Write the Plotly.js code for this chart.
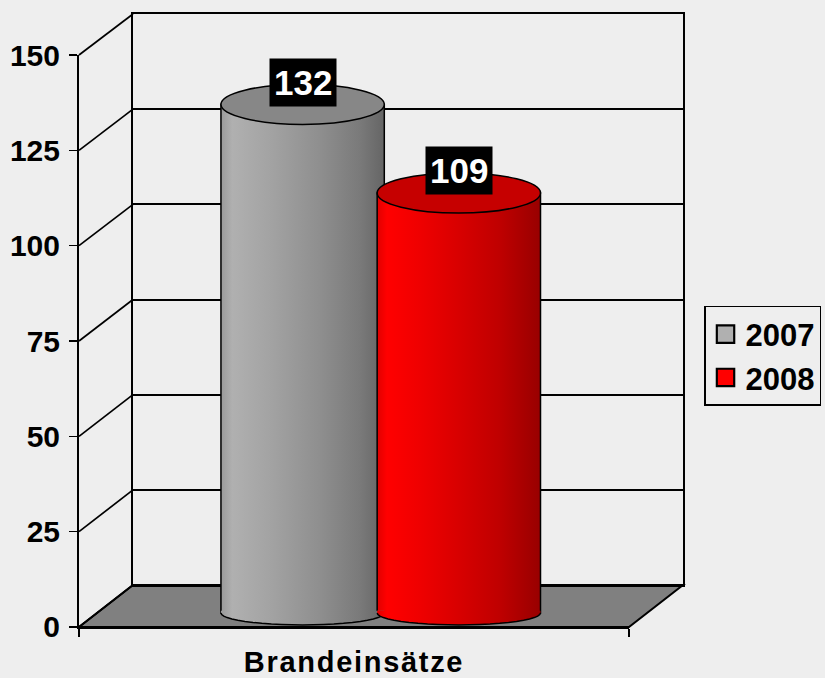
<!DOCTYPE html>
<html>
<head>
<meta charset="utf-8">
<script src="https://cdn.plot.ly/plotly-3.0.1.min.js"></script>
<style>html,body{margin:0;padding:0;background:#eeeeee;}</style>
</head>
<body>
<div id="chart" style="width:825px;height:678px;"></div>
<script>
// ---- data ----
const categories = ['Brandeinsätze'];
const seriesNames = ['2007', '2008'];
const values2007 = [132];
const values2008 = [109];
const yTickVals = [0, 25, 50, 75, 100, 125, 150];

// ---- styles / geometry ----
const FONT = 'Liberation Sans, Arial, sans-serif';
const FRONT_X = [0, 0.9106], FRONT_Y = [0, 0.9331];
const BACK_X = [0.0894, 1], BACK_Y = [0.0685, 1];
const BAR_W = 0.297;
const OFFSETS = [-0.291, -0.007];
const TOP_RY = 5.2, BOT_RY = 3.1;
const swatch = ['#b0b0b0', '#ff0000'];
const topColors = ['#878787', '#c60000'];
const gradIds = ['gradGray', 'gradRed'];
const gradStops = [
  [[0, '#9a9a9a'], [0.07, '#b0b0b0'], [0.3, '#a3a3a3'], [0.6, '#8f8f8f'], [0.85, '#7a7a7a'], [1, '#656565']],
  [[0, '#e00000'], [0.06, '#ff0000'], [0.25, '#f00000'], [0.5, '#d80000'], [0.75, '#bf0000'], [1, '#980000']]
];

const seriesValues = [values2007, values2008];

const traces = [
  // invisible traces registering the front and back subplots
  {type: 'scatter', x: categories, y: [null], xaxis: 'x', yaxis: 'y', showlegend: false, hoverinfo: 'skip', mode: 'markers'},
  {type: 'scatter', x: [null], y: [null], xaxis: 'x2', yaxis: 'y2', showlegend: false, hoverinfo: 'skip', mode: 'markers'}
];
seriesValues.forEach((vals, i) => {
  traces.push({
    type: 'bar', name: seriesNames[i], x: categories, y: vals,
    xaxis: 'x3', yaxis: 'y3', width: BAR_W, offset: OFFSETS[i],
    marker: {color: swatch[i], line: {color: '#000', width: 1.5}},
    hoverinfo: 'skip', textposition: 'none'
  });
});

// ---- decorative frame shapes (paper coords from domains) ----
const shapes = [];
shapes.push({type: 'path', xref: 'paper', yref: 'paper', layer: 'below',
  path: `M ${FRONT_X[0]},${FRONT_Y[0]} L ${FRONT_X[1]},${FRONT_Y[0]} L ${BACK_X[1]},${BACK_Y[0]} L ${BACK_X[0]},${BACK_Y[0]} Z`,
  fillcolor: '#808080', line: {color: '#000', width: 2}});
yTickVals.forEach(v => {
  const f = v / 150;
  shapes.push({type: 'line', xref: 'paper', yref: 'paper', layer: 'below',
    x0: FRONT_X[0], y0: FRONT_Y[0] + f * (FRONT_Y[1] - FRONT_Y[0]),
    x1: BACK_X[0], y1: BACK_Y[0] + f * (BACK_Y[1] - BACK_Y[0]),
    line: {color: '#000', width: 1.7}});
});

// ---- cylinder tops and bottoms ----
const gradShapeIdx = [];
seriesValues.forEach((vals, i) => {
  vals.forEach((v, c) => {
    const x0 = c + OFFSETS[i], x1 = x0 + BAR_W, cx = (x0 + x1) / 2, rx = BAR_W / 2;
    let p = `M ${x0},0.6 L ${x0},0`;
    let arc = `M ${x0},0`;
    for (let k = 1; k <= 24; k++) {
      const th = Math.PI + Math.PI * k / 24;
      const px = cx + rx * Math.cos(th), py = BOT_RY * Math.sin(th);
      p += ` L ${px.toFixed(4)},${py.toFixed(4)}`;
      arc += ` L ${px.toFixed(4)},${py.toFixed(4)}`;
    }
    p += ` L ${x1},0.6 Z`;
    gradShapeIdx.push([shapes.length, i]);
    shapes.push({type: 'path', xref: 'x3', yref: 'y3', layer: 'above', path: p,
      fillcolor: swatch[i], line: {width: 0}});
    shapes.push({type: 'path', xref: 'x3', yref: 'y3', layer: 'above', path: arc,
      fillcolor: 'rgba(0,0,0,0)', line: {color: '#000', width: 1.5}});
    shapes.push({type: 'circle', xref: 'x3', yref: 'y3', layer: 'above',
      x0: x0, x1: x1, y0: v - TOP_RY, y1: v + TOP_RY,
      fillcolor: topColors[i], line: {color: '#000', width: 1.5}});
  });
});

// ---- value labels ----
const annotations = [];
seriesValues.forEach((vals, i) => {
  vals.forEach((v, c) => {
    annotations.push({xref: 'x3', yref: 'y2', x: c + OFFSETS[i] + BAR_W / 2, y: v,
      text: String(v), showarrow: false, bgcolor: '#000', borderpad: 4,
      font: {family: FONT, size: 35, color: '#fff', weight: 700}});
  });
});

const layout = {
  width: 825, height: 678,
  margin: {l: 79, r: 142, t: 14, b: 51, pad: 0, autoexpand: false},
  paper_bgcolor: '#eeeeee', plot_bgcolor: 'rgba(0,0,0,0)',
  font: {family: FONT, color: '#000'},
  barmode: 'overlay',
  showlegend: true,
  legend: {x: 1.0348, xanchor: 'left', y: 0.5237, yanchor: 'top',
    bgcolor: 'rgba(0,0,0,0)', bordercolor: '#000', borderwidth: 1.5,
    font: {family: FONT, size: 31, weight: 700, color: '#000'}},
  xaxis: {domain: FRONT_X, anchor: 'y', type: 'category', categoryarray: categories,
    range: [-0.5, 0.5], tickson: 'boundaries', ticks: 'outside', ticklen: 8, tickwidth: 2,
    tickcolor: '#000', showline: true, linecolor: '#000', linewidth: 2, showgrid: false,
    zeroline: false, fixedrange: true, ticklabelstandoff: 8,
    tickfont: {family: FONT, size: 29, weight: 700, color: '#000'}},
  yaxis: {domain: FRONT_Y, anchor: 'x', range: [0, 150], tickvals: yTickVals,
    ticks: 'outside', ticklen: 8, tickwidth: 1.5, tickcolor: '#000',
    showline: true, linecolor: '#000', linewidth: 2, showgrid: false, zeroline: false,
    ticklabelstandoff: 3, fixedrange: true,
    tickfont: {family: FONT, size: 30, weight: 700, color: '#000'}},
  xaxis2: {domain: BACK_X, anchor: 'y2', range: [0, 1], showline: true, mirror: true,
    linecolor: '#000', linewidth: 2, showgrid: false, zeroline: false,
    showticklabels: false, ticks: '', layer: 'below traces', fixedrange: true},
  yaxis2: {domain: BACK_Y, anchor: 'x2', range: [0, 150], tickvals: yTickVals,
    showgrid: true, gridcolor: '#000', gridwidth: 2, showline: true, mirror: true,
    linecolor: '#000', linewidth: 2, zeroline: false, showticklabels: false, ticks: '',
    layer: 'below traces', fixedrange: true},
  xaxis3: {domain: [0, 1], anchor: 'y3', type: 'category', categoryarray: categories,
    range: [-0.5491, 0.5491], visible: false, fixedrange: true},
  yaxis3: {domain: [0, 1], anchor: 'x3', range: [-3.63, 155.45], visible: false, fixedrange: true},
  shapes: shapes,
  annotations: annotations
};

function applyGradients(gd) {
  const NS = 'http://www.w3.org/2000/svg';
  const svg = gd.querySelector('.main-svg');
  let defs = svg.querySelector('defs');
  if (!defs) { defs = document.createElementNS(NS, 'defs'); svg.insertBefore(defs, svg.firstChild); }
  gradIds.forEach((id, i) => {
    const g = document.createElementNS(NS, 'linearGradient');
    g.setAttribute('id', id);
    g.setAttribute('x1', '0'); g.setAttribute('x2', '1'); g.setAttribute('y1', '0'); g.setAttribute('y2', '0');
    gradStops[i].forEach(s => {
      const st = document.createElementNS(NS, 'stop');
      st.setAttribute('offset', s[0]);
      st.setAttribute('stop-color', s[1]);
      g.appendChild(st);
    });
    defs.appendChild(g);
  });
  gd.querySelectorAll('.barlayer .trace').forEach((t, i) => {
    t.querySelectorAll('path').forEach(p => { p.style.fill = `url(#${gradIds[i]})`; });
  });
  gradShapeIdx.forEach(([idx, i]) => {
    gd.querySelectorAll(`.shapelayer [data-index="${idx}"]`).forEach(el => {
      const p = el.tagName.toLowerCase() === 'path' ? el : el.querySelector('path');
      if (p) p.style.fill = `url(#${gradIds[i]})`;
    });
  });
  gd.querySelectorAll('.legend .legendpoints path').forEach(p => {
    const tr = p.getAttribute('transform') || '';
    p.setAttribute('transform', tr + ' scale(1.45)');
  });
  gd.querySelectorAll('.xaxislayer-above .xtick text').forEach(t => {
    t.style.letterSpacing = '1.7px';
  });
}

const gd = document.getElementById('chart');
Plotly.newPlot(gd, traces, layout, {staticPlot: true, displayModeBar: false}).then(() => applyGradients(gd));
</script>
</body>
</html>
